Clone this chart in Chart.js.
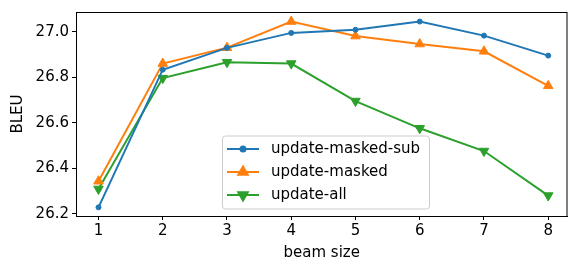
<!DOCTYPE html>
<html>
<head>
<meta charset="utf-8">
<script src="https://cdn.jsdelivr.net/npm/chart.js@4.4.1/dist/chart.umd.min.js"></script>
<style>
  html, body { margin: 0; padding: 0; background: #fff; }
</style>
</head>
<body>
<canvas id="lineChart" width="574" height="262"></canvas>
<script>
// data
const beamSizes = [1, 2, 3, 4, 5, 6, 7, 8];
const maskedSub = [26.228, 26.834, 26.930, 26.996, 27.010, 27.046, 26.984, 26.896];
const masked = [26.343, 26.861, 26.931, 27.046, 26.982, 26.947, 26.915, 26.763];
const updateAll = [26.309, 26.797, 26.867, 26.861, 26.696, 26.576, 26.476, 26.280];
const yTicks = [26.2, 26.4, 26.6, 26.8, 27.0];
const seriesNames = ['update-masked-sub', 'update-masked', 'update-all'];

const FONT = 'DejaVu Sans';

const series = [
  { data: maskedSub, color: '#1f77b4', style: 'circle', radius: 2.5, rotation: 0 },
  { data: masked, color: '#ff7f0e', style: 'triangle', radius: 5.5, rotation: 0 },
  { data: updateAll, color: '#2ca02c', style: 'triangle', radius: 5.5, rotation: 180 },
];

// box around the plot plus a legend inside it
const framePlugin = {
  id: 'frame',
  afterDraw(chart) {
    const { ctx, chartArea: a } = chart;
    ctx.save();
    ctx.strokeStyle = '#000';
    ctx.lineWidth = 1;
    ctx.strokeRect(a.left + 0.5, a.top + 0.5, a.right - a.left - 1, a.bottom - a.top);

    // legend
    const bx = 222, by = 135.5, bw = 207, bh = 73;
    ctx.fillStyle = 'rgba(255,255,255,0.8)';
    ctx.strokeStyle = '#cccccc';
    ctx.beginPath();
    ctx.roundRect(bx + 0.5, by + 0.5, bw, bh, 3);
    ctx.fill();
    ctx.stroke();
    const rows = [149, 172, 195];
    ctx.font = '15px "' + FONT + '"';
    ctx.textBaseline = 'middle';
    series.forEach((s, i) => {
      const y = rows[i];
      ctx.strokeStyle = s.color;
      ctx.lineWidth = 2;
      ctx.beginPath();
      ctx.moveTo(227, y);
      ctx.lineTo(259, y);
      ctx.stroke();
      ctx.fillStyle = s.color;
      Chart.helpers.drawPoint(ctx, { pointStyle: s.style, radius: s.radius, rotation: s.rotation, borderWidth: 1 }, 243, y);
      ctx.fillStyle = '#000';
      ctx.fillText(seriesNames[i], 271, y);
    });
    ctx.restore();
  }
};

const ctx = document.getElementById('lineChart');
new Chart(ctx, {
  type: 'line',
  data: {
    datasets: series.map((s, i) => ({
      label: seriesNames[i],
      data: beamSizes.map((b, j) => ({ x: b, y: s.data[j] })),
      borderColor: s.color,
      backgroundColor: s.color,
      borderWidth: 2,
      pointStyle: s.style,
      pointRadius: s.radius,
      pointRotation: s.rotation,
      pointBorderWidth: 1,
      tension: 0,
    })),
  },
  options: {
    responsive: false,
    animation: false,
    layout: { padding: { top: 8, right: 2, left: 0, bottom: 0 } },
    plugins: { legend: { display: false }, tooltip: { enabled: false } },
    scales: {
      x: {
        type: 'linear',
        min: 0.65,
        max: 8.3,
        afterBuildTicks: (scale) => { scale.ticks = beamSizes.map(v => ({ value: v })); },
        afterFit: (scale) => { scale.height = 46; },
        grid: { drawOnChartArea: false, drawTicks: true, tickLength: 4, color: '#000' },
        border: { color: '#000' },
        ticks: { color: '#000', font: { family: FONT, size: 15 }, padding: 2, maxRotation: 0 },
        title: { display: true, text: 'beam size', color: '#000', font: { family: FONT, size: 15 }, padding: { top: 0, bottom: 0 } },
      },
      y: {
        min: 26.19,
        max: 27.088,
        afterBuildTicks: (scale) => { scale.ticks = yTicks.map(v => ({ value: v })); },
        afterFit: (scale) => { scale.width = 76; },
        grid: { drawOnChartArea: false, drawTicks: true, tickLength: 4, color: '#000' },
        border: { color: '#000' },
        ticks: { color: '#000', font: { family: FONT, size: 15 }, padding: 3, callback: (v) => v.toFixed(1) },
        title: { display: true, text: 'BLEU', color: '#000', font: { family: FONT, size: 15 }, padding: { top: 9, bottom: 0 } },
      },
    },
  },
  plugins: [framePlugin],
});
</script>
</body>
</html>
